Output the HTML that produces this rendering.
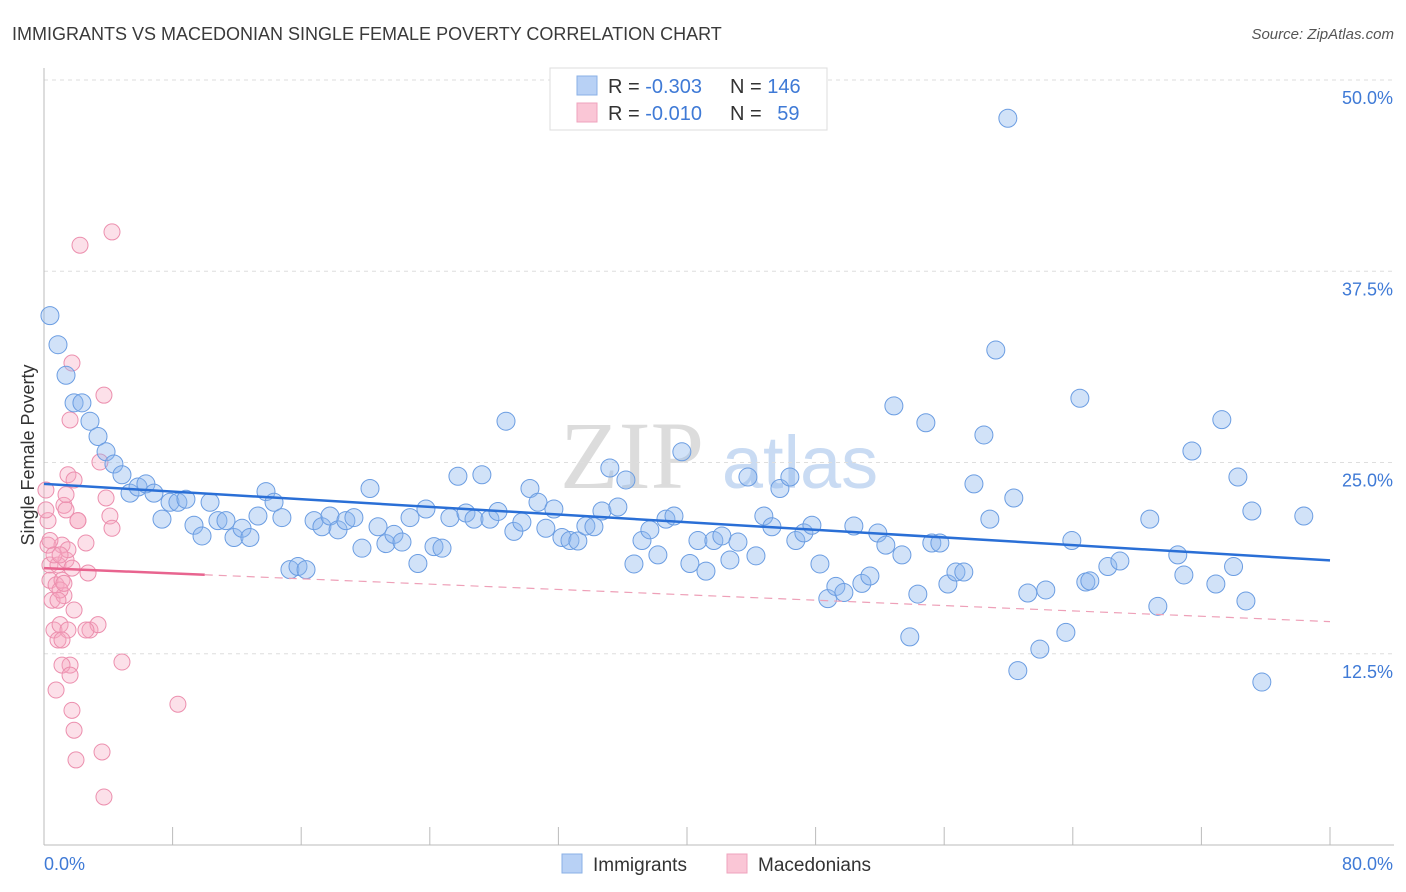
<!DOCTYPE html>
<html><head><meta charset="utf-8"><style>
body{margin:0;background:#fff;font-family:"Liberation Sans",sans-serif;}
svg{display:block}
</style></head><body>
<svg id="chart" width="1406" height="892" xmlns="http://www.w3.org/2000/svg" font-family="Liberation Sans, sans-serif">
<text x="12" y="40" font-size="18" fill="#3a3a3a">IMMIGRANTS VS MACEDONIAN SINGLE FEMALE POVERTY CORRELATION CHART</text>
<text x="1394" y="39" font-size="15" fill="#555" font-style="italic" text-anchor="end">Source: ZipAtlas.com</text>
<g>
<text x="632" y="488" font-size="96" fill="#dcdcdc" font-family="Liberation Serif, serif" text-anchor="middle">ZIP</text>
<text x="800" y="488" font-size="74" fill="#c9dbf3" text-anchor="middle">atlas</text>
</g>
<g id="grid"></g>
<g id="axes"></g>
<g id="pink"></g>
<g id="blue"></g>
<g id="trends"></g>
<g>
<rect x="550" y="68" width="277" height="62" fill="#fff" stroke="#ddd"/>
<rect x="577" y="76" width="20" height="19" fill="#b8d1f5" stroke="#8ab0e6"/>
<rect x="577" y="103" width="20" height="19" fill="#fac6d6" stroke="#efa3bd"/>
<text x="608" y="93" font-size="20" fill="#333">R = <tspan fill="#3f7ad6">-0.303</tspan></text>
<text x="730" y="93" font-size="20" fill="#333">N = <tspan fill="#3f7ad6">146</tspan></text>
<text x="608" y="120" font-size="20" fill="#333">R = <tspan fill="#3f7ad6">-0.010</tspan></text>
<text x="730" y="120" font-size="20" fill="#333">N = <tspan fill="#3f7ad6" dx="10">59</tspan></text>
</g>
<g>
<rect x="562" y="854" width="20" height="19" fill="#b8d1f5" stroke="#8ab0e6"/>
<text x="593" y="871" font-size="19" fill="#333">Immigrants</text>
<rect x="727" y="854" width="20" height="19" fill="#fac6d6" stroke="#efa3bd"/>
<text x="758" y="871" font-size="19" fill="#333">Macedonians</text>
</g>
<text transform="translate(34,455) rotate(-90)" font-size="18" fill="#333" text-anchor="middle">Single Female Poverty</text>
</svg>
<script>
const yTicks=[12.5,25,37.5,50];
const yTickLabels=["12.5%","25.0%","37.5%","50.0%"];
const xTicks=[0,8,16,24,32,40,48,56,64,72,80];
const xEndLabels=["0.0%","80.0%"];
const blueX=[0.37,0.87,1.37,1.87,2.36,2.86,3.36,3.86,4.35,4.85,5.35,5.85,6.34,6.84,7.34,7.84,8.33,8.83,9.33,9.83,10.33,10.82,11.32,11.82,12.32,12.81,13.31,13.81,14.31,14.8,15.3,15.8,16.3,16.8,17.29,17.79,18.29,18.78,19.28,19.78,20.28,20.78,21.27,21.77,22.27,22.77,23.26,23.76,24.26,24.76,25.25,25.75,26.25,26.75,27.24,27.74,28.24,28.74,29.23,29.73,30.23,30.73,31.22,31.72,32.22,32.72,33.21,33.71,34.21,34.71,35.2,35.7,36.2,36.7,37.2,37.69,38.19,38.69,39.19,39.68,40.18,40.68,41.18,41.67,42.17,42.67,43.17,43.79,44.29,44.78,45.28,45.78,46.4,46.77,47.27,47.77,48.27,48.76,49.26,49.76,50.38,50.88,51.38,51.87,52.37,52.87,53.37,53.86,54.36,54.86,55.23,55.73,56.23,56.73,57.22,57.85,58.47,58.84,59.21,59.96,60.33,60.58,61.2,61.95,62.32,63.57,63.94,64.44,64.81,65.06,66.18,66.93,68.79,69.29,70.53,70.91,71.41,72.9,73.27,74.0,74.27,74.77,75.14,75.76,78.37];
const blueY=[34.6,32.7,30.7,28.9,28.9,27.7,26.7,25.7,24.9,24.2,23.0,23.4,23.6,23.0,21.3,22.4,22.4,22.6,20.9,20.2,22.4,21.2,21.2,20.1,20.7,20.1,21.5,23.1,22.4,21.4,18.0,18.2,18.0,21.2,20.8,21.5,20.6,21.2,21.4,19.4,23.3,20.8,19.7,20.3,19.8,21.4,18.4,21.96,19.5,19.4,21.4,24.1,21.7,21.3,24.2,21.3,21.8,27.7,20.5,21.1,23.3,22.4,20.7,21.96,20.1,19.9,19.87,20.85,20.8,21.83,24.64,22.09,23.86,18.37,19.9,20.6,18.96,21.3,21.5,25.7,18.4,19.9,17.9,19.9,20.2,18.63,19.8,24.05,18.9,21.5,20.8,23.3,24.05,19.9,20.4,20.9,18.37,16.1,16.9,16.5,20.85,17.1,17.58,20.39,19.6,28.7,18.96,13.6,16.4,27.6,19.74,19.74,17.06,17.84,17.84,23.6,26.8,21.3,32.35,47.5,22.68,11.4,16.47,12.8,16.67,13.9,19.9,29.2,17.19,17.26,18.2,18.56,21.3,15.6,18.96,17.65,25.75,17.06,27.8,18.2,24.05,15.95,21.83,10.65,21.5];
const pinkX=[0.12,0.25,0.25,0.37,0.37,0.5,0.62,0.75,0.87,1.0,1.12,1.24,1.37,1.49,1.62,1.74,1.87,1.99,2.11,2.24,1.12,1.24,0.87,1.0,1.37,1.49,1.62,1.74,1.87,0.75,1.12,1.37,1.62,1.74,2.11,2.61,2.74,2.86,3.36,3.48,3.61,3.73,3.73,3.86,4.1,4.23,4.23,4.85,8.33,0.12,0.37,0.62,0.87,1.12,1.24,1.49,1.87,2.61,1.0];
const pinkY=[23.2,21.2,19.6,18.3,17.3,16.0,14.05,17.0,13.4,14.4,19.6,22.2,22.9,24.2,11.76,8.8,7.5,5.56,21.2,39.2,17.3,16.3,18.3,16.67,18.63,14.05,27.78,31.5,15.36,10.13,11.76,21.9,11.1,18.1,21.2,19.74,17.78,14.05,14.4,25.03,6.08,29.4,3.14,22.68,21.5,20.7,40.07,11.96,9.2,21.9,19.9,18.96,16.0,13.4,17.1,19.3,23.86,14.05,18.96];
const blueTrend=[23.6,18.6];   // value at x=0 and x=80
const pinkTrend=[18.1,14.6];   // value at x=0 and x=80
const pinkSolidEnd=10;
const NS="http://www.w3.org/2000/svg";
const X0=44,X1=1330,Y0=845,Y50=80;
function sx(v){return X0+(v/80)*(X1-X0);}
function sy(v){return Y0-(v/50)*(Y0-Y50);}
function mk(tag,attrs,parent){const e=document.createElementNS(NS,tag);for(const k in attrs)e.setAttribute(k,attrs[k]);parent.appendChild(e);return e;}
const grid=document.getElementById('grid');
yTicks.forEach((t,i)=>{
  const l=mk('line',{x1:X0,x2:1394,y1:sy(t),y2:sy(t),stroke:'#dedede','stroke-dasharray':'4,4'},grid);
  
  
  const tx=mk('text',{x:1393,y:sy(t)+24,'font-size':18,fill:'#3f7ad6','text-anchor':'end'},grid);
  tx.textContent=yTickLabels[i];
  
  
});
const axes=document.getElementById('axes');
const ya=mk('line',{x1:X0,x2:X0,y1:68,y2:Y0,stroke:'#bbb'},axes);


const xa=mk('line',{x1:X0,x2:1394,y1:Y0,y2:Y0,stroke:'#bbb'},axes);


xTicks.forEach(t=>{
  const l=mk('line',{x1:sx(t),x2:sx(t),y1:Y0-18,y2:Y0,stroke:'#bbb'},axes);
  
  
});
const xl0=mk('text',{x:44,y:870,'font-size':18,fill:'#3f7ad6'},axes);
xl0.textContent=xEndLabels[0];


const xl1=mk('text',{x:1393,y:870,'font-size':18,fill:'#3f7ad6','text-anchor':'end'},axes);
xl1.textContent=xEndLabels[1];


const pg=document.getElementById('pink');
pinkX.forEach((v,i)=>{
  const c=mk('circle',{cx:sx(v),cy:sy(pinkY[i]),r:8,fill:'rgba(245,165,192,0.35)',stroke:'#ec8fae','stroke-width':1},pg);
  
  
});
const bg=document.getElementById('blue');
blueX.forEach((v,i)=>{
  const c=mk('circle',{cx:sx(v),cy:sy(blueY[i]),r:9,fill:'rgba(140,182,238,0.4)',stroke:'#6b9de2','stroke-width':1},bg);
  
  
});
const tg=document.getElementById('trends');
const bt=mk('line',{x1:sx(0),y1:sy(blueTrend[0]),x2:sx(80),y2:sy(blueTrend[1]),stroke:'#2a6fd6','stroke-width':2.5},tg);


const pAt=x=>pinkTrend[0]+(pinkTrend[1]-pinkTrend[0])*x/80;
const ps=mk('line',{x1:sx(0),y1:sy(pAt(0)),x2:sx(pinkSolidEnd),y2:sy(pAt(pinkSolidEnd)),stroke:'#e8648f','stroke-width':2.5},tg);


const pd=mk('line',{x1:sx(pinkSolidEnd),y1:sy(pAt(pinkSolidEnd)),x2:sx(80),y2:sy(pAt(80)),stroke:'#eea0b8','stroke-width':1.2,'stroke-dasharray':'8,6'},tg);


</script>
</body></html>
